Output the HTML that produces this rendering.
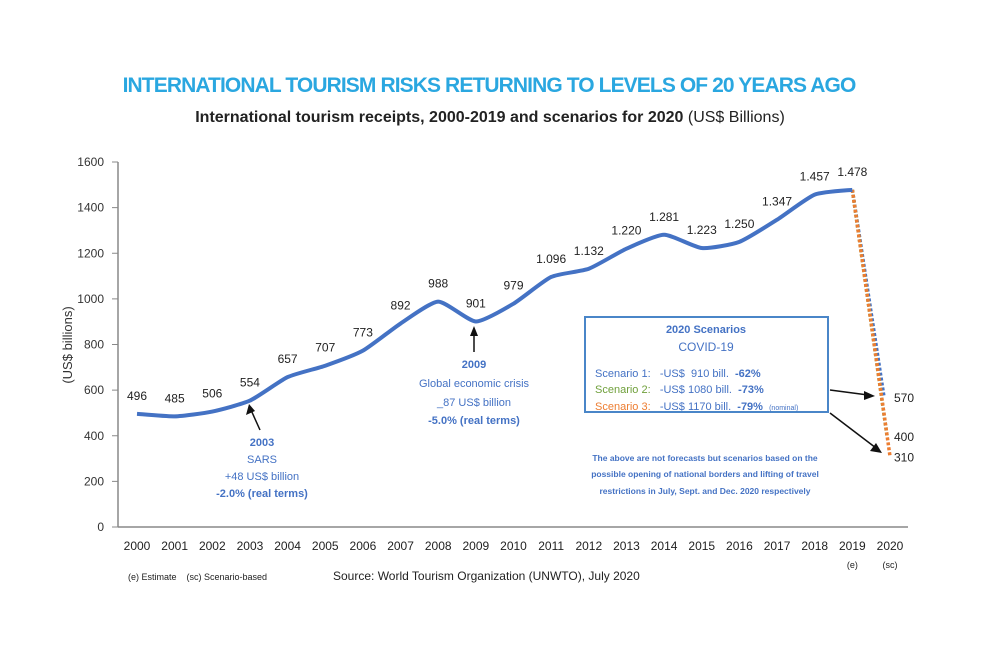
<!DOCTYPE html>
<html><head><meta charset="utf-8"><style>
body{margin:0;background:#fff;font-family:"Liberation Sans",sans-serif}
svg text{font-family:"Liberation Sans",sans-serif;white-space:pre}
</style></head><body>
<svg id="chart" width="987" height="650" viewBox="0 0 987 650" xmlns="http://www.w3.org/2000/svg">
<text x="489" y="92" text-anchor="middle" font-size="21" font-weight="bold" fill="#2aa7e0" letter-spacing="-0.9">INTERNATIONAL TOURISM RISKS RETURNING TO LEVELS OF 20 YEARS AGO</text>
<text x="490" y="122" text-anchor="middle" font-size="16" fill="#222"><tspan font-weight="bold">International tourism receipts, 2000-2019 and scenarios for 2020</tspan> (US$ Billions)</text>
<text transform="translate(72,345) rotate(-90)" text-anchor="middle" font-size="13" fill="#333">(US$ billions)</text>
<g id="axes"></g>
<g id="marks"></g>
<g id="labels"></g>
<g fill="#4472c4" font-size="11" text-anchor="middle">
<line x1="260" y1="430" x2="251" y2="410" stroke="#111" stroke-width="1.5"/><polygon points="249,404 246,415 255,411" fill="#111"/>
<text x="262" y="446" font-weight="bold">2003</text><text x="262" y="463">SARS</text><text x="262" y="480">+48 US$ billion</text><text x="262" y="497" font-weight="bold">-2.0% (real terms)</text>
</g>
<g fill="#4472c4" font-size="11" text-anchor="middle">
<line x1="474" y1="352" x2="474" y2="332" stroke="#111" stroke-width="1.5"/><polygon points="474,326 470,336 478,336" fill="#111"/>
<text x="474" y="368" font-weight="bold">2009</text><text x="474" y="387">Global economic crisis</text><text x="474" y="406">_87 US$ billion</text><text x="474" y="424" font-weight="bold">-5.0% (real terms)</text>
</g>
<g>
<rect x="585" y="317" width="243" height="95" fill="#fff" stroke="#4a86c8" stroke-width="2"/>
<text x="706" y="333" text-anchor="middle" font-size="11" font-weight="bold" fill="#4472c4">2020 Scenarios</text>
<text x="706" y="351" text-anchor="middle" font-size="12" fill="#4472c4">COVID-19</text>
<text x="595" y="377" font-size="11" fill="#4472c4">Scenario 1:   -US$  910 bill.  <tspan font-weight="bold">-62%</tspan></text>
<text x="595" y="393" font-size="11" fill="#70a03c">Scenario 2:   <tspan fill="#4472c4">-US$ 1080 bill.  <tspan font-weight="bold">-73%</tspan></tspan></text>
<text x="595" y="410" font-size="11" fill="#ed7d31">Scenario 3:   <tspan fill="#4472c4">-US$ 1170 bill.  <tspan font-weight="bold">-79%</tspan>  <tspan font-size="7">(nominal)</tspan></tspan></text>
</g>
<line x1="830" y1="390" x2="868" y2="395" stroke="#111" stroke-width="1.5"/><polygon points="875,396 864,391 864,400" fill="#111"/>
<line x1="830" y1="413" x2="876" y2="448" stroke="#111" stroke-width="1.5"/><polygon points="882,453 876,443 870,451" fill="#111"/>
<g font-size="8.5" fill="#4472c4" text-anchor="middle" font-weight="bold">
<text x="705" y="461">The above are not forecasts but scenarios based on the</text>
<text x="705" y="477">possible opening of national borders and lifting of travel</text>
<text x="705" y="494">restrictions in July, Sept. and Dec. 2020 respectively</text>
</g>
<text x="128" y="580" font-size="9" fill="#222">(e) Estimate    (sc) Scenario-based</text>
<text x="333" y="580" font-size="12" fill="#222">Source: World Tourism Organization (UNWTO), July 2020</text>
</svg>
<script>
const years=['2000','2001','2002','2003','2004','2005','2006','2007','2008','2009','2010','2011','2012','2013','2014','2015','2016','2017','2018','2019','2020'];
const receipts=[496,485,506,554,657,707,773,892,988,901,979,1096,1132,1220,1281,1223,1250,1347,1457,1478];
const receiptLabels=['496','485','506','554','657','707','773','892','988','901','979','1.096','1.132','1.220','1.281','1.223','1.250','1.347','1.457','1.478'];
const scenarioValues=[570,400,310];
const scenarioColors=['#4472c4','#70a03c','#ed7d31'];
const yTicks=[0,200,400,600,800,1000,1200,1400,1600];
const NS='http://www.w3.org/2000/svg';
const x=i=>137+i*37.65, y=v=>527-v*(365/1600);
function mk(t,a,p){const e=document.createElementNS(NS,t);for(const k in a)e.setAttribute(k,a[k]);p.appendChild(e);return e;}
const axes=document.getElementById('axes'),marks=document.getElementById('marks'),labels=document.getElementById('labels');
const ax=mk('line',{x1:118,y1:162,x2:118,y2:527,stroke:'#888','stroke-width':1.5},axes);


const bx=mk('line',{x1:118,y1:527,x2:908,y2:527,stroke:'#888','stroke-width':1.5},axes);


yTicks.forEach(t=>{
 mk('line',{x1:112,x2:118,y1:y(t),y2:y(t),stroke:'#888'},axes);
 const tx=mk('text',{x:104,y:y(t)+4,'text-anchor':'end','font-size':12,fill:'#333'},axes);tx.textContent=t;
 
 
});
years.forEach((yr,i)=>{
 const tx=mk('text',{x:x(i),y:550,'text-anchor':'middle','font-size':12,fill:'#222'},axes);tx.textContent=yr;
 
 
});
[['(e)',19],['(sc)',20]].forEach(([s,i])=>{const t=mk('text',{x:x(i),y:568,'text-anchor':'middle','font-size':9,fill:'#222'},axes);t.textContent=s;});
scenarioValues.forEach((v,k)=>{
 const l=mk('line',{x1:x(19),y1:y(receipts[19]),x2:x(20)-(2-k)*3,y2:y(v),stroke:scenarioColors[k],'stroke-width':3.5,'stroke-dasharray':'3 2'},marks);
 
 
 const t=mk('text',{x:x(20)+4,y:y(v)+5,'font-size':12,fill:'#222'},labels);t.textContent=v;
 
 
});
const pts=receipts.map((v,i)=>[x(i),y(v)]);
let d='M'+pts[0][0]+','+pts[0][1];
for(let i=0;i<pts.length-1;i++){const p0=pts[i-1]||pts[i],p1=pts[i],p2=pts[i+1],p3=pts[i+2]||p2;
 d+=' C'+(p1[0]+(p2[0]-p0[0])/10)+','+(p1[1]+(p2[1]-p0[1])/10)+' '+(p2[0]-(p3[0]-p1[0])/10)+','+(p2[1]-(p3[1]-p1[1])/10)+' '+p2[0]+','+p2[1];}
const line=mk('path',{d:d,fill:'none',stroke:'#4472c4','stroke-width':4,'stroke-linejoin':'round'},marks);


receipts.forEach((v,i)=>{
 const t=mk('text',{x:x(i),y:y(v)-14,'text-anchor':'middle','font-size':12,fill:'#222'},labels);t.textContent=receiptLabels[i];
 
 
});
</script>
</body></html>
